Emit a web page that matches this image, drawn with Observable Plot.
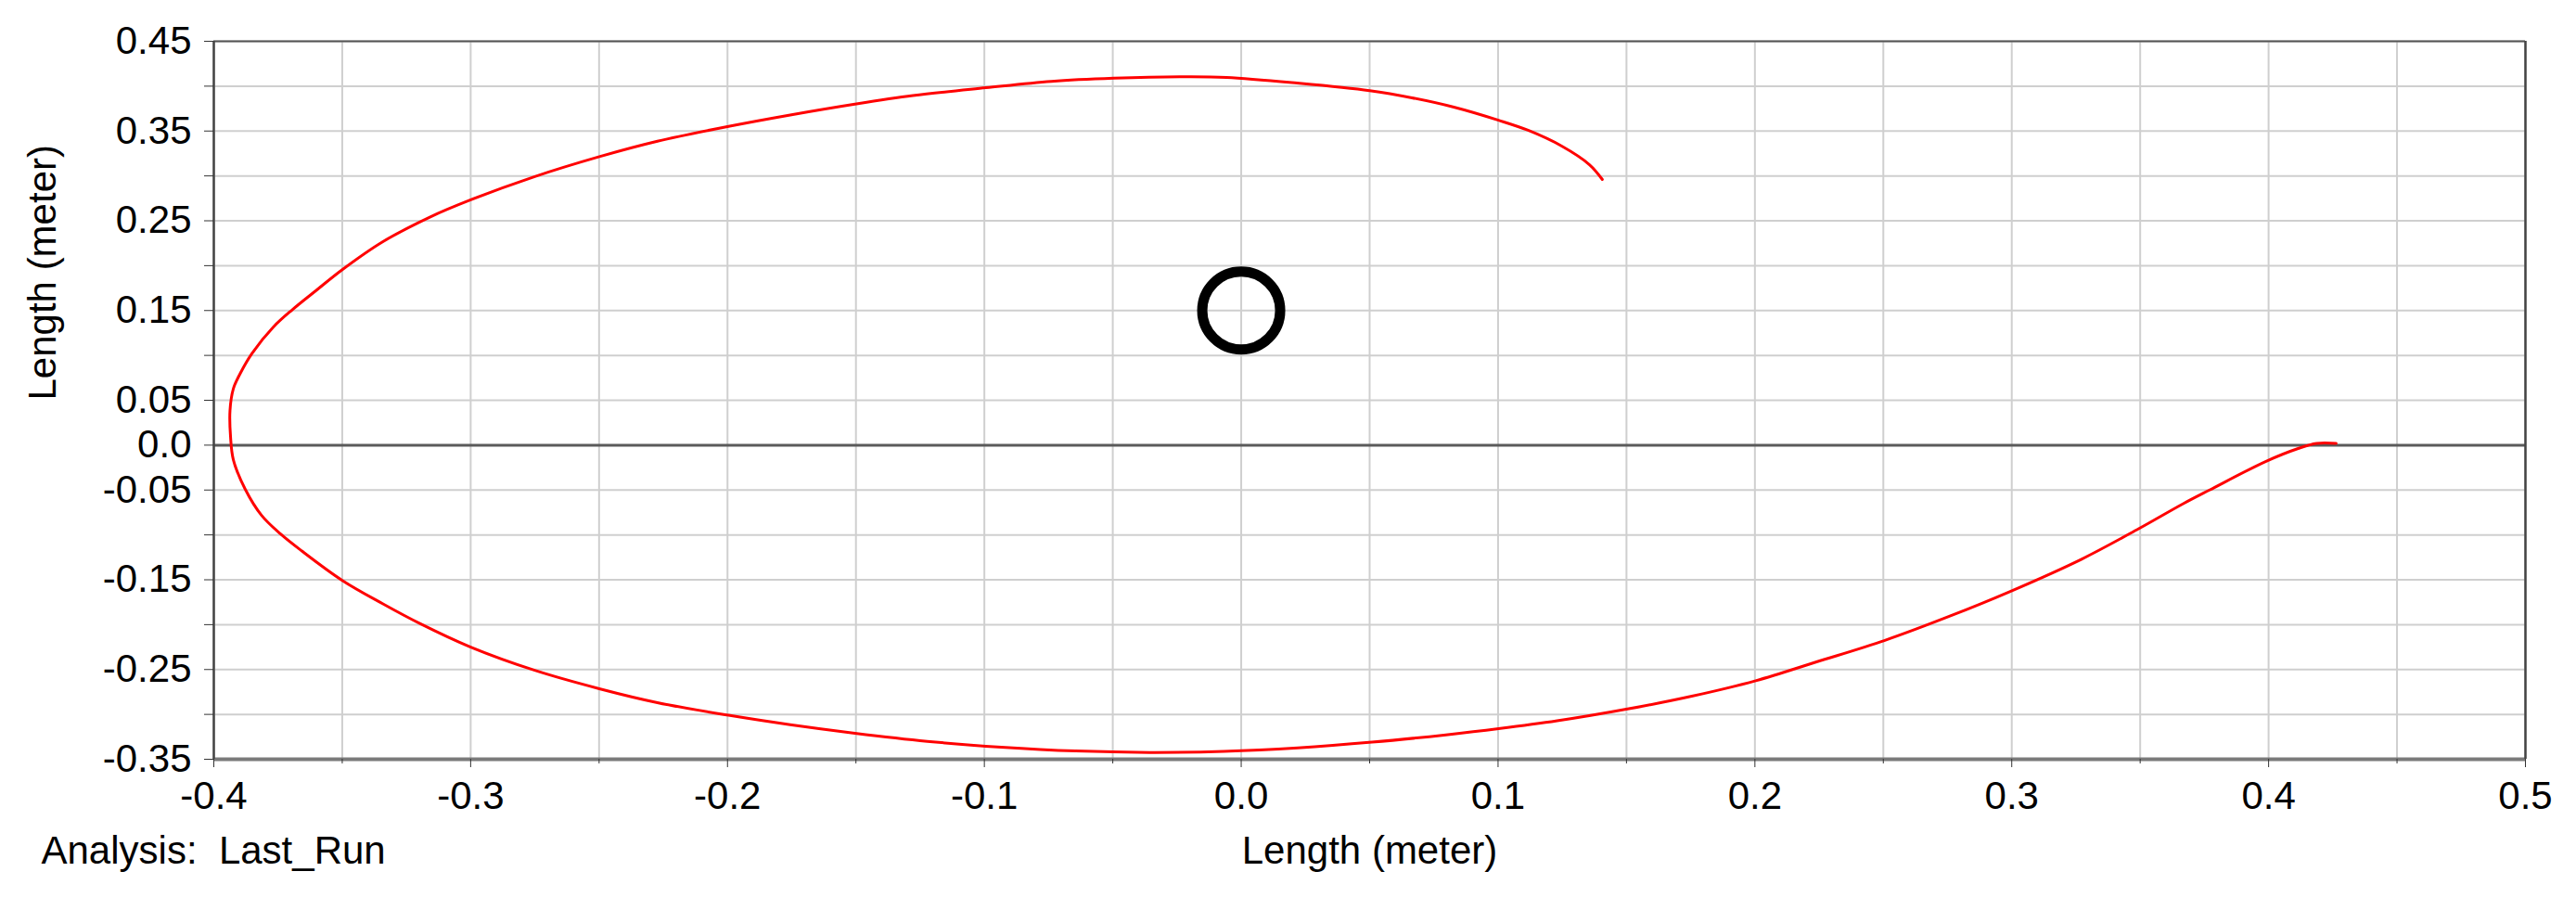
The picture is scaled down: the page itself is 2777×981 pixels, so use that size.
<!DOCTYPE html>
<html><head><meta charset="utf-8">
<script src="https://cdn.jsdelivr.net/npm/d3@7"></script>
<script src="https://cdn.jsdelivr.net/npm/@observablehq/plot@0.6"></script>
<style>html,body{margin:0;padding:0;background:#fff;} svg{display:block;}</style>
</head><body><div id="chart"></div>
<script>
// Trajectory (meters), ordered from the right-hand hook along the bottom, up the left, across the top
const pathX = [0.4263, 0.4187, 0.4115, 0.399, 0.377, 0.3666, 0.3494, 0.327, 0.299, 0.2759, 0.2506, 0.224, 0.2003, 0.175, 0.1504, 0.123, 0.1002, 0.0797, 0.0509, 0.022, -0.0068, -0.0357, -0.0645, -0.0934, -0.1222,
  -0.1504, -0.1756, -0.1996, -0.2273, -0.2499, -0.2753, -0.3002, -0.3196, -0.3343, -0.35, -0.3657, -0.374, -0.3814, -0.3878, -0.3924,
  -0.3935, -0.3937, -0.3924, -0.3897, -0.3851, -0.3768, -0.3694, -0.3601, -0.35, -0.3343, -0.3159, -0.3002, -0.2753, -0.2499, -0.2273, -0.1996, -0.1756, -0.1504,
  -0.1278, -0.0994, -0.0739, -0.0496, -0.023, -0.0057, 0.0217, 0.05, 0.0665, 0.0828, 0.1002, 0.1117, 0.1248, 0.1356, 0.1406];
const pathY = [0.002, 0.002, -0.0037, -0.018, -0.050, -0.0655, -0.0932, -0.1273, -0.1635, -0.1905, -0.2175, -0.2415, -0.2625, -0.28, -0.294, -0.3072, -0.316, -0.3228, -0.331, -0.3373, -0.3412, -0.3424, -0.3408, -0.3365, -0.33,
  -0.321, -0.3115, -0.301, -0.2869, -0.2714, -0.2507, -0.2248, -0.199, -0.1766, -0.1507, -0.118, -0.099, -0.0783, -0.049, -0.0162,
  0.01, 0.0386, 0.0628, 0.08, 0.1024, 0.1317, 0.151, 0.1725, 0.1955, 0.2265, 0.2541, 0.2731, 0.299, 0.3214, 0.3386, 0.3552, 0.3679, 0.38,
  0.3895, 0.3982, 0.4053, 0.4088, 0.4105, 0.4098, 0.4035, 0.395, 0.387, 0.3766, 0.362, 0.3508, 0.3332, 0.3125, 0.296];
// Target marker
const circleX = [0.0];
const circleY = [0.15];
// Axes
const xTicks = [-0.4, -0.35, -0.3, -0.25, -0.2, -0.15, -0.1, -0.05, 0, 0.05, 0.1, 0.15, 0.2, 0.25, 0.3, 0.35, 0.4, 0.45, 0.5];
const xLabeledTicks = [-0.4, -0.3, -0.2, -0.1, 0, 0.1, 0.2, 0.3, 0.4, 0.5];
const yTicks = [0.45, 0.4, 0.35, 0.3, 0.25, 0.2, 0.15, 0.1, 0.05, 0, -0.05, -0.1, -0.15, -0.2, -0.25, -0.3, -0.35];
const yLabeledTicks = [0.45, 0.35, 0.25, 0.15, 0.05, 0, -0.05, -0.15, -0.25, -0.35];
const xLabel = "Length (meter)";
const yLabel = "Length (meter)";
const caption = "Analysis:  Last_Run";

const path = pathX.map((x, i) => ({x, y: pathY[i]}));
const circle = circleX.map((x, i) => ({x, y: circleY[i]}));
const xMinor = xTicks.filter(t => !xLabeledTicks.includes(t));

const chart = Plot.plot({
  width: 2777, height: 981,
  marginLeft: 230, marginRight: 55, marginTop: 44, marginBottom: 163,
  style: {fontFamily: "'Liberation Sans', Arial, sans-serif", fontSize: "42px", color: "#000", background: "#fff", overflow: "visible"},
  x: {domain: [-0.4, 0.5]},
  y: {domain: [-0.35, 0.45]},
  marks: [
    Plot.gridX(xTicks, {stroke: "#cfcfcf", strokeOpacity: 1, strokeWidth: 2}),
    Plot.gridY(yTicks, {stroke: "#cfcfcf", strokeOpacity: 1, strokeWidth: 2}),
    Plot.ruleY([0], {stroke: "#5a5a5a", strokeWidth: 3}),
    Plot.ruleY([0.45], {stroke: "#555", strokeWidth: 2}),
    Plot.ruleY([-0.35], {stroke: "#7a7a7a", strokeWidth: 4}),
    Plot.ruleX([-0.4], {stroke: "#444", strokeWidth: 2.5}),
    Plot.ruleX([0.5], {stroke: "#444", strokeWidth: 2.5}),
    Plot.line(path, {x: "x", y: "y", stroke: "#ff0000", strokeWidth: 3, curve: "catmull-rom"}),
    Plot.dot(circle, {x: "x", y: "y", r: 42, stroke: "#000", strokeWidth: 11, fill: "none"}),
    Plot.axisX(xMinor, {tickSize: 5, stroke: "#333", tickFormat: () => "", label: null}),
    Plot.axisX(xLabeledTicks, {tickSize: 9, tickPadding: 15, stroke: "#333", tickFormat: d => d.toFixed(1), label: null}),
    Plot.axisY(yTicks, {tickSize: 10, tickPadding: 14, stroke: "#333",
      tickFormat: d => yLabeledTicks.includes(d) ? (d === 0 ? "0.0" : d.toFixed(2)) : "", label: null}),
    Plot.text([xLabel], {frameAnchor: "bottom", dy: 112, text: d => d, fontSize: 42}),
    Plot.text([caption], {frameAnchor: "bottom-left", textAnchor: "start", dx: -186, dy: 112, text: d => d, fontSize: 42}),
    Plot.text([yLabel], {frameAnchor: "left", rotate: -90, dx: -184, text: d => d, fontSize: 42})
  ]
});
document.getElementById("chart").append(chart);
</script>
</body></html>
